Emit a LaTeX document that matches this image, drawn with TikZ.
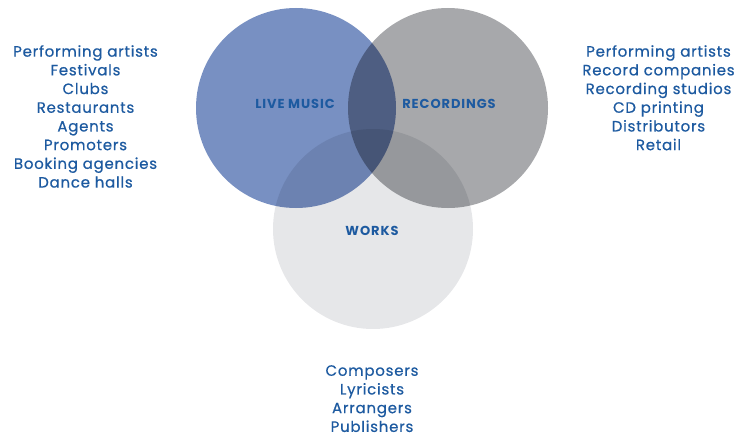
\documentclass[tikz,border=0pt]{standalone}
\usepackage{fontspec}
\setmainfont{Poppins}
\newfontfamily\listfont[LetterSpace=5,FakeBold=0.6]{Poppins}
\newfontfamily\titlefont[LetterSpace=7]{Poppins}
\usetikzlibrary{positioning}

\definecolor{livecol}{HTML}{7890C2}
\definecolor{reccol}{HTML}{A7A8AB}
\definecolor{workcol}{HTML}{E6E7E9}
\definecolor{textblue}{HTML}{1D5AA0}

\begin{document}
\begin{tikzpicture}[
	x=1pt, y=-1pt,
	area/.style={circle, minimum size=200pt, inner sep=0pt},
	title/.style={text=textblue, font=\titlefont\bfseries\fontsize{13}{15}\selectfont},
	list/.style={text=textblue, align=center, inner sep=0pt, anchor=north,
		font=\listfont\fontsize{15}{18.7}\selectfont}
	]
	
	\useasboundingbox (0,0) rectangle (736,436);
	
	%-----------------------
	% Circle centres
	%-----------------------
	\def\ytop{108}   % live music and recordings
	\def\ywork{229}  % works
	
	%-----------------------
	% Circles (multiplied where they overlap)
	%-----------------------
	\begin{scope}[blend group=multiply]
		\node[area, fill=livecol] (live) at (296,\ytop) {};
		\node[area, fill=reccol] (rec) at (448,\ytop) {};
		\node[area, fill=workcol] (work) at (373,\ywork) {};
	\end{scope}
	
	%-----------------------
	% Titles
	%-----------------------
	\node[title] (live-t) at (295,104) {LIVE MUSIC};
	\node[title] (rec-t) at (449,104) {RECORDINGS};
	\node[title] (work-t) at (372,231) {WORKS};
	
	%-----------------------
	% Lists
	%-----------------------
	\node[list] (live-l) at (85.5,45) {Performing artists\\Festivals\\Clubs\\Restaurants\\Agents\\Promoters\\Booking agencies\\Dance halls};
	\node[list] (rec-l) at (658.5,45) {Performing artists\\Record companies\\Recording studios\\CD printing\\Distributors\\Retail};
	\node[list] (work-l) at (372,365) {Composers\\Lyricists\\Arrangers\\Publishers};
	
\end{tikzpicture}
\end{document}
